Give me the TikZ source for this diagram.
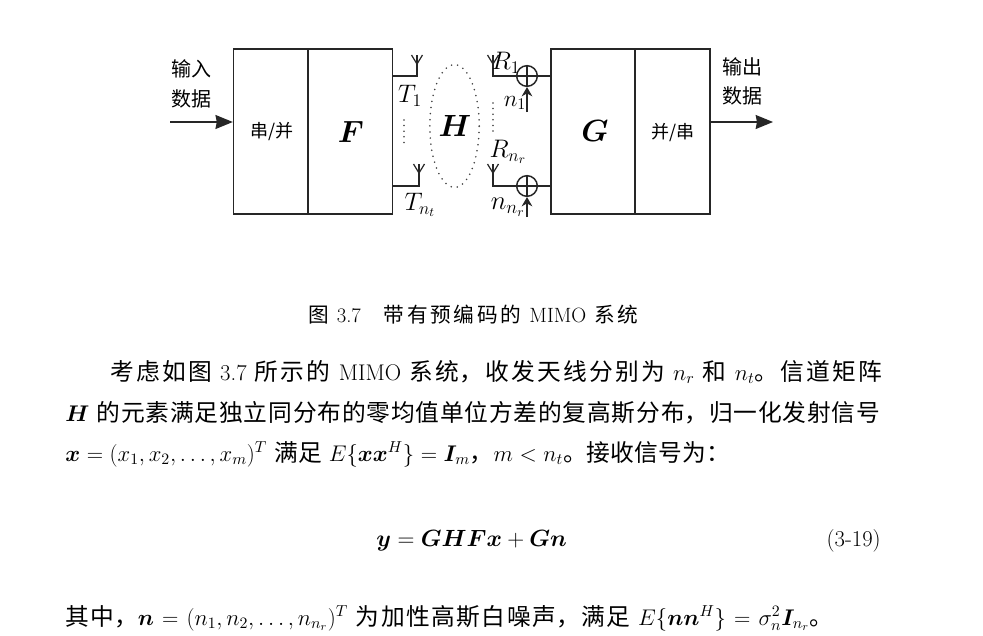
\documentclass[tikz,border=0pt]{standalone}
\usepackage{fix-cm}
\usepackage{amsmath,bm}
\usepackage[no-math]{fontspec}
\usetikzlibrary{arrows.meta,calc,shapes.geometric}
\newfontfamily\cjk{Noto Sans CJK SC}
\XeTeXlinebreaklocale "zh"
\XeTeXlinebreakskip=0pt plus 4pt
\tolerance=10000
\newcommand{\bodyfont}{\fontsize{17}{19}\selectfont}
\newcommand{\cjkbody}{\fontsize{17.8}{19}\cjk}
\newcommand{\Z}[1]{{\cjkbody #1}}
\newcommand{\justline}[2]{\parbox[b]{#1\dimexpr 0.75pt\relax}{\parindent=0pt\parfillskip=0pt\relax\bodyfont #2}}
\tikzset{
  blockbox/.style={draw=black!85,line width=1.1pt,minimum height=123.75pt,inner sep=0pt},
  wire/.style={draw=black!85,line width=1.1pt},
  sumnode/.style={draw=black!85,line width=1.1pt,circle,minimum size=15.5pt,inner sep=0pt},
  flow/.style={draw=black!85,line width=1.1pt,-{Stealth[length=13pt,width=10.5pt,inset=1pt]}},
  noise/.style={draw=black!85,line width=0.9pt,-{Stealth[length=7pt,width=8pt]}},
  lbl/.style={text=black,inner sep=0pt},
  textline/.style={text=black,inner sep=0pt,anchor=base west},
  cjklab/.style={lbl,font=\fontsize{15}{17}\cjk},
  sym/.style={lbl,font=\fontsize{19}{21}\selectfont},
  dots/.style={draw=black!75,line width=1.3pt,line cap=round,dash pattern=on 0pt off 4.2pt}
}
\newcommand{\antenna}[1]{%
  \draw[wire,line width=0.9pt] ($(#1)+(-5.5,0)$) -- ($(#1)+(0,9)$) -- ($(#1)+(5.5,0)$);
  \draw[wire,line width=0.9pt] (#1) -- ($(#1)+(0,9)$);}
\begin{document}
\begin{tikzpicture}[x=0.75pt,y=-0.75pt]
\useasboundingbox (0,0) rectangle (983,636);
\fill[white] (0,0) rectangle (983,636);

% blocks
\node[blockbox,minimum width=55.9pt] (sp) at (270.8,131.5) {};
\node[blockbox,minimum width=63.4pt] (fb) at (350.3,131.5) {};
\node[blockbox,minimum width=63pt] (gb) at (593,131.5) {};
\node[blockbox,minimum width=56.25pt] (ps) at (672.5,131.5) {};
\node[cjklab,font=\fontsize{13.5}{15}\cjk] (spt) at (272,132) {串/并};
\node[cjklab,font=\fontsize{13.5}{15}\cjk] (pst) at (673,133) {并/串};
\node[lbl,font=\fontsize{23}{25}\selectfont] (ft) at (351,132) {$\bm{F}$};
\node[lbl,font=\fontsize{23}{25}\selectfont] (gt) at (595,131) {$\bm{G}$};

% input and output
\coordinate (inS) at (170,122);
\coordinate (outE) at (773,122);
\draw[flow] (inS) -- (inS -| sp.west);
\draw[flow] (outE -| ps.east) -- (outE);
\node[cjklab] (i1) at (191,69) {输入};
\node[cjklab] (i2) at (191,99) {数据};
\node[cjklab] (o1) at (742,67) {输出};
\node[cjklab] (o2) at (742,96) {数据};

% transmit antennas
\coordinate (ta) at (417,55);
\coordinate (tb) at (419,164);
\coordinate (taf) at (417,76);
\coordinate (tbf) at (419,186);
\antenna{ta}
\antenna{tb}
\draw[wire] (taf -| fb.east) -- (taf) -- (ta);
\draw[wire] (tbf -| fb.east) -- (tbf) -- (tb);
\node[sym] (t1) at (410,96) {$T_{1}$};
\node[sym] (tn) at (420,205) {$T_{n_t}$};
\coordinate (td1) at (404,120);
\coordinate (td2) at (404,145);
\draw[dots] (td1) -- (td2);

% channel
\node[draw=black!75,line width=1.3pt,ellipse,dash pattern=on 0pt off 4.6pt,line cap=round,minimum width=37pt,minimum height=92pt,inner sep=0pt] (ch) at (454.5,126) {};
\node[lbl,font=\fontsize{23}{25}\selectfont] (ht) at (455,126) {$\bm{H}$};
\coordinate (rd1) at (493,103);
\coordinate (rd2) at (493,134);
\draw[dots] (rd1) -- (rd2);

% receive antennas
\coordinate (ra) at (493,55);
\coordinate (rb) at (493,164);
\coordinate (raf) at (493,76);
\coordinate (rbf) at (493,186);
\antenna{ra}
\antenna{rb}
\node[sumnode] (s1) at (527,76) {};
\node[sumnode] (s2) at (527,186) {};
\draw[wire] (ra) -- (raf) -- (s1.west);
\draw[wire] (rb) -- (rbf) -- (s2.west);
\draw[wire] (s1.east) -- (s1.east -| gb.west);
\draw[wire] (s2.east) -- (s2.east -| gb.west);
\draw[wire,line width=0.9pt] (s1.north) -- (s1.south);
\draw[wire,line width=0.9pt] (s1.west) -- (s1.east);
\draw[wire,line width=0.9pt] (s2.north) -- (s2.south);
\draw[wire,line width=0.9pt] (s2.west) -- (s2.east);
\coordinate (n1s) at (527,112);
\coordinate (n2s) at (527,217);
\draw[noise] (n1s) -- (s1.south);
\draw[noise] (n2s) -- (s2.south);
\node[sym] (r1) at (506,63) {$R_{1}$};
\node[sym] (rn) at (508,152) {$R_{n_r}$};
\node[sym,font=\fontsize{17.5}{19}\selectfont] (n1) at (515,103) {$n_{1}$};
\node[sym,font=\fontsize{20}{22}\selectfont] (nn) at (508,207) {$n_{n_r}$};

% caption
\node[textline] (cap) at (308,322) {\parbox[b]{330\dimexpr 0.75pt\relax}{\parindent=0pt\parfillskip=0pt\relax\fontsize{15.5}{17}\selectfont {\fontsize{15.5}{17}\cjk 图} 3.7\hspace{17pt}{\fontsize{15.5}{17}\cjk 带有预编码的} MIMO {\fontsize{15.5}{17}\cjk 系统}}};

% body text
\node[textline] (l1) at (110,380) {\justline{772}{\Z{考虑如图} 3.7 \Z{所示的} MIMO \Z{系统，收发天线分别为} $n_r$ \Z{和} $n_t$\Z{。信道矩阵}}};
\node[textline] (l2) at (65,421) {\justline{815}{$\bm{H}$ \Z{的元素满足独立同分布的零均值单位方差的复高斯分布，归一化发射信号}}};
\node[textline] (l3) at (65,461) {\justline{665}{$\bm{x}=(x_1,x_2,\ldots,x_m)^T$ \Z{满足} $E\{\bm{x}\bm{x}^H\}=\bm{I}_m$\Z{，}$m<n_t$\Z{。接收信号为：}}};
\node[textline,font=\fontsize{17.6}{19}\selectfont] (eq) at (376,546) {$\bm{y}=\bm{G}\bm{H}\bm{F}\bm{x}+\bm{G}\bm{n}$};
\node[text=black,inner sep=0pt,anchor=base east,font=\bodyfont] (eqn) at (881,546) {(3-19)};
\node[textline] (l4) at (65,625) {\justline{768}{\Z{其中，}$\bm{n}=(n_1,n_2,\ldots,n_{n_r})^T$ \Z{为加性高斯白噪声，满足} $E\{\bm{n}\bm{n}^H\}=\sigma_n^2\bm{I}_{n_r}$\Z{。}}};
\end{tikzpicture}
\end{document}
